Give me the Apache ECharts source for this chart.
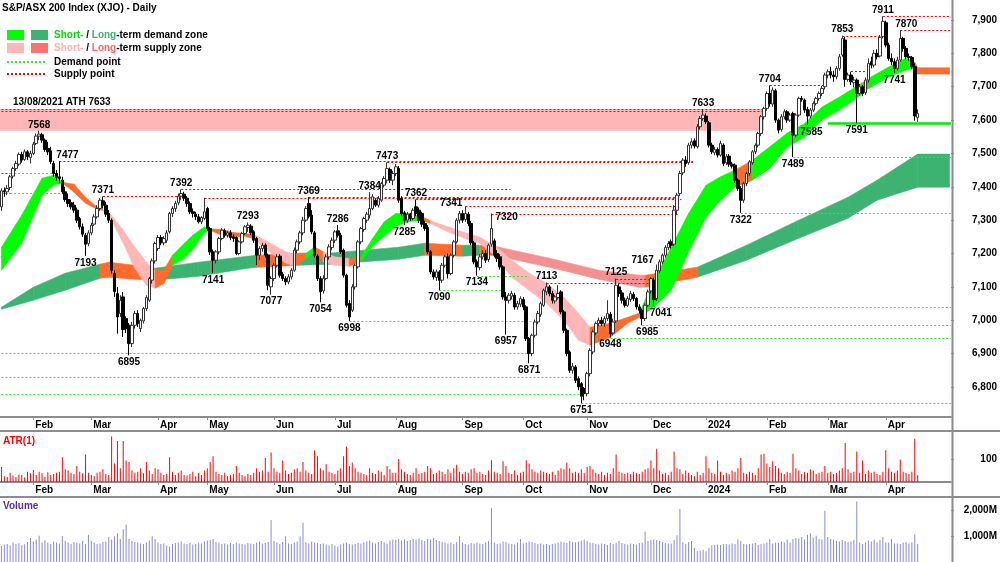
<!DOCTYPE html>
<html>
<head>
<meta charset="utf-8">
<script src="https://cdn.jsdelivr.net/npm/echarts@6/dist/echarts.min.js"></script>
<style>
  html, body { margin: 0; padding: 0; background: #fff; }
  #chart { width: 1000px; height: 562px; }
</style>
</head>
<body>
<div id="chart"></div>
<script>
// daily candles [open, close, low, high], 16 Jan 2023 .. 17 Apr 2024
var candles = [
  [7340,7388,7328,7395],[7388,7385,7370,7398],[7385,7395,7375,7405],[7398,7430,7390,7436],[7432,7455,7425,7460],
  [7455,7470,7448,7478],[7468,7497,7462,7503],[7497,7480,7472,7505],[7482,7505,7478,7512],[7505,7490,7480,7510],
  [7488,7500,7470,7508],[7500,7528,7495,7535],[7530,7552,7525,7560],[7552,7558,7540,7568],[7556,7540,7532,7562],
  [7540,7512,7505,7545],[7515,7505,7495,7535],[7508,7475,7468,7520],[7470,7440,7430,7478],[7440,7428,7418,7450],
  [7430,7425,7410,7477],[7420,7385,7378,7430],[7385,7362,7355,7400],[7362,7350,7340,7380],[7352,7340,7332,7362],
  [7345,7330,7322,7355],[7330,7300,7292,7338],[7305,7280,7272,7310],[7280,7258,7250,7290],[7255,7228,7193,7262],
  [7230,7262,7222,7270],[7262,7285,7255,7292],[7288,7310,7282,7318],[7310,7335,7305,7345],[7335,7360,7328,7366],
  [7358,7345,7335,7371],[7345,7318,7310,7355],[7320,7300,7292,7330],[7300,7150,7140,7305],[7140,7086,7070,7150],
  [7080,7010,6960,7100],[7020,7060,7010,7075],[7070,6972,6950,7085],[7005,6975,6962,7012],[6985,6930,6895,6992],
  [6930,6985,6920,6995],[6985,7020,6975,7028],[7020,6990,6980,7030],[6975,7000,6965,7005],[6998,7035,6990,7040],
  [7035,7068,7028,7075],[7060,7125,7055,7130],[7120,7178,7110,7185],[7178,7230,7170,7236],[7215,7248,7208,7255],
  [7248,7232,7225,7255],[7232,7245,7225,7252],[7240,7262,7232,7270],[7265,7320,7260,7325],[7320,7335,7310,7342],
  [7335,7350,7325,7358],[7352,7372,7345,7380],[7372,7380,7360,7392],[7378,7366,7358,7385],[7366,7350,7340,7372],
  [7350,7325,7318,7356],[7325,7320,7308,7335],[7318,7310,7300,7325],[7310,7295,7290,7318],[7295,7308,7288,7312],
  [7305,7325,7300,7367],[7335,7275,7268,7340],[7275,7205,7195,7280],[7205,7180,7141,7212],[7180,7205,7170,7210],
  [7205,7245,7198,7250],[7245,7270,7240,7276],[7268,7255,7248,7275],[7255,7262,7248,7268],[7262,7248,7240,7270],
  [7250,7245,7235,7258],[7248,7200,7195,7252],[7200,7235,7195,7240],[7235,7260,7230,7265],[7260,7280,7255,7285],
  [7278,7285,7265,7293],[7282,7262,7255,7288],[7265,7240,7232,7270],[7245,7195,7165,7250],[7195,7215,7180,7222],
  [7215,7225,7205,7232],[7225,7195,7188,7230],[7195,7105,7090,7200],[7100,7125,7077,7132],[7125,7165,7118,7172],
  [7165,7190,7158,7198],[7192,7135,7128,7198],[7138,7125,7118,7145],[7125,7115,7105,7132],[7115,7130,7108,7138],
  [7130,7150,7122,7156],[7150,7210,7145,7218],[7210,7235,7200,7242],[7235,7262,7228,7268],[7262,7300,7255,7310],
  [7300,7335,7295,7342],[7350,7312,7305,7369],[7315,7265,7258,7330],[7262,7195,7188,7268],[7192,7125,7118,7198],
  [7125,7085,7054,7132],[7088,7125,7080,7135],[7125,7190,7120,7198],[7190,7220,7182,7228],[7218,7240,7210,7248],
  [7240,7265,7232,7270],[7268,7255,7248,7286],[7255,7205,7198,7262],[7210,7135,7128,7215],[7135,7045,7038,7140],
  [7050,7010,6998,7060],[7030,7100,7025,7108],[7100,7165,7092,7170],[7160,7235,7155,7240],[7235,7275,7228,7280],
  [7272,7305,7265,7310],[7300,7318,7292,7325],[7315,7335,7305,7384],[7335,7370,7330,7378],[7360,7345,7340,7366],
  [7345,7365,7338,7372],[7360,7410,7355,7415],[7405,7425,7398,7432],[7420,7455,7410,7473],[7452,7420,7412,7458],
  [7420,7440,7405,7448],[7440,7460,7432,7468],[7455,7360,7352,7462],[7365,7320,7312,7372],[7322,7300,7285,7328],
  [7300,7318,7292,7325],[7318,7305,7298,7322],[7305,7330,7300,7336],[7340,7320,7312,7362],[7330,7300,7292,7338],
  [7320,7288,7280,7325],[7290,7275,7268,7298],[7278,7205,7198,7285],[7205,7145,7138,7210],[7145,7130,7122,7152],
  [7128,7145,7118,7152],[7145,7120,7090,7150],[7120,7165,7112,7172],[7165,7190,7158,7195],[7190,7140,7125,7200],
  [7140,7195,7135,7200],[7195,7235,7188,7240],[7235,7300,7230,7306],[7300,7320,7290,7328],[7320,7300,7292,7330],
  [7302,7320,7295,7341],[7318,7290,7282,7325],[7290,7232,7225,7298],[7232,7175,7168,7238],[7175,7160,7134,7182],
  [7158,7190,7150,7198],[7190,7200,7182,7210],[7200,7180,7172,7210],[7182,7225,7175,7230],[7228,7275,7220,7320],
  [7238,7195,7188,7245],[7200,7185,7175,7210],[7190,7160,7152,7198],[7160,7070,7062,7165],[7070,7060,6957,7085],
  [7060,7075,7050,7082],[7072,7080,7062,7088],[7075,7040,7032,7082],[7040,7050,7032,7058],[7048,7065,7040,7072],
  [7062,7040,7030,7070],[7040,6945,6938,7045],[6945,6900,6871,6950],[6900,6955,6892,6960],[6955,6995,6948,7002],
  [6995,7020,6988,7028],[7018,7050,7010,7056],[7045,7090,7040,7095],[7085,7100,7075,7113],[7100,7080,7072,7106],
  [7080,7060,7050,7088],[7058,7070,7050,7076],[7068,7080,7062,7105],[7085,7025,7018,7090],[7025,6970,6962,7030],
  [6970,6900,6892,6975],[6905,6850,6842,6910],[6850,6862,6840,6872],[6860,6820,6812,6866],[6825,6800,6790,6832],
  [6810,6772,6751,6815],[6795,6780,6760,6800],[6780,6840,6772,6846],[6840,6910,6832,6916],[6905,6965,6898,6972],
  [6962,6990,6955,6996],[6990,7000,6982,7008],[7000,6990,6982,7010],[6990,7005,6980,7012],[7005,7020,6998,7060],
  [7018,6960,6948,7025],[6962,6995,6955,7005],[6998,7105,6992,7125],[7100,7080,7070,7110],[7082,7060,7050,7090],
  [7060,7045,7038,7068],[7045,7065,7040,7072],[7062,7080,7055,7088],[7078,7065,7058,7085],[7065,7040,7032,7070],
  [7040,7030,7020,7048],[7030,7005,6985,7035],[7005,7045,6998,7050],[7045,7085,7040,7092],[7088,7125,7080,7130],
  [7120,7062,7041,7128],[7065,7150,7058,7167],[7148,7175,7140,7182],[7175,7195,7168,7200],[7195,7218,7188,7225],
  [7218,7230,7210,7238],[7235,7225,7215,7242],[7228,7330,7222,7345],[7330,7375,7318,7382],[7380,7440,7372,7448],
  [7442,7480,7435,7486],[7480,7470,7460,7492],[7472,7525,7466,7532],[7525,7535,7515,7545],[7538,7522,7515,7545],
  [7520,7580,7515,7588],[7580,7605,7572,7612],[7605,7615,7598,7633],[7612,7595,7588,7620],[7592,7525,7518,7598],
  [7525,7505,7498,7532],[7502,7512,7495,7520],[7512,7495,7488,7518],[7495,7530,7490,7538],[7525,7470,7462,7530],
  [7472,7490,7465,7498],[7492,7468,7460,7498],[7468,7462,7455,7475],[7465,7420,7412,7470],[7420,7395,7388,7425],
  [7395,7360,7322,7402],[7360,7410,7352,7415],[7410,7440,7402,7445],[7440,7475,7432,7480],[7472,7505,7466,7510],
  [7505,7525,7498,7530],[7525,7560,7518,7565],[7560,7610,7552,7615],[7610,7635,7602,7640],[7635,7680,7628,7686],
  [7680,7650,7640,7704],[7648,7690,7640,7698],[7688,7600,7592,7694],[7600,7570,7560,7605],[7572,7610,7565,7618],
  [7610,7625,7602,7632],[7625,7600,7592,7630],[7600,7615,7595,7622],[7620,7555,7489,7625],[7555,7615,7548,7620],
  [7615,7665,7610,7670],[7665,7662,7655,7672],[7660,7630,7622,7665],[7632,7612,7585,7640],[7612,7630,7605,7636],
  [7630,7650,7624,7656],[7650,7665,7644,7670],[7665,7680,7658,7686],[7680,7695,7672,7702],[7700,7735,7692,7742],
  [7735,7745,7725,7752],[7745,7735,7725,7760],[7735,7730,7715,7748],[7730,7755,7722,7762],[7755,7790,7748,7798],
  [7795,7845,7790,7853],[7840,7722,7700,7850],[7722,7735,7715,7742],[7735,7715,7705,7745],[7712,7720,7698,7730],
  [7720,7680,7591,7725],[7680,7700,7672,7708],[7700,7680,7672,7705],[7682,7720,7675,7728],[7720,7770,7712,7785],
  [7775,7765,7755,7790],[7765,7800,7758,7810],[7800,7790,7782,7812],[7792,7848,7788,7855],[7850,7896,7845,7911],
  [7892,7825,7818,7898],[7825,7785,7778,7832],[7785,7775,7765,7800],[7775,7755,7741,7785],[7755,7780,7748,7790],
  [7780,7845,7775,7870],[7845,7815,7805,7850],[7815,7790,7782,7822],[7790,7788,7778,7800],[7788,7760,7752,7792],
  [7760,7612,7598,7770],[7608,7620,7595,7632]
];

// ATR(1) bars, points
var atr = [
  65,25,22,40,28,22,32,30,20,45,38,
  52,30,45,38,22,42,30,35,40,45,108,55,50,40,35,70,45,38,120,40,
  30,25,40,45,55,35,30,198,80,178,60,178,94,87,50,40,45,60,38,87,50,35,60,
  55,40,30,35,108,45,30,40,50,30,28,35,45,25,40,30,50,
  60,87,112,45,35,30,40,25,30,35,70,40,30,25,35,30,40,60,45,50,104,45,128,
  60,45,40,94,50,35,40,55,60,45,87,50,40,35,138,112,60,50,77,45,40,
  35,50,60,112,155,70,85,60,45,40,35,30,60,40,35,50,45,30,70,55,40,
  40,100,55,45,35,30,40,60,35,40,45,70,60,35,40,50,45,35,55,40,60,75,45,
  35,45,40,55,60,40,45,35,30,50,95,45,40,35,90,70,40,35,50,30,40,
  45,95,80,55,45,40,50,45,40,35,45,30,50,60,55,85,60,40,45,40,55,40,
  65,70,55,40,35,45,30,40,35,60,120,45,40,35,40,35,45,40,35,45,55,60,
  94,60,145,50,35,40,30,45,133,60,55,35,50,40,30,25,45,30,40,
  112,60,40,35,94,45,30,40,35,50,45,60,104,40,35,45,40,30,60,120,123,
  80,65,90,70,60,40,35,45,40,123,60,50,35,45,40,55,50,35,40,45,70,
  40,45,35,40,50,60,170,55,40,45,133,40,94,35,50,40,45,35,30,45,
  138,60,45,40,50,98,45,40,35,45,188,29
];

// daily volume, millions of shares
var volume = [
  620,680,700,640,760,700,730,650,690,780,940,
  800,880,1020,760,840,760,700,800,760,720,1010,820,760,700,780,760,720,830,700,1060,
  820,760,700,720,780,800,980,880,1000,1120,900,1280,1460,900,820,780,760,720,700,760,840,1000,900,
  760,700,720,640,600,700,740,760,800,720,700,740,680,700,760,720,800,
  840,860,900,780,760,700,720,680,740,700,760,720,700,680,740,720,700,760,800,720,740,780,1640,
  820,760,700,780,1000,720,700,760,800,1000,1530,760,720,800,760,740,700,720,680,640,700,
  640,600,680,720,760,700,680,700,740,720,760,800,840,760,720,780,820,760,720,840,880,
  860,900,840,880,820,860,900,880,920,860,820,900,880,940,860,820,780,760,720,740,700,780,1000,
  760,700,680,740,720,760,720,700,760,820,2100,760,700,720,800,780,720,700,680,760,900,
  720,760,800,780,740,700,720,680,700,660,700,720,760,800,760,740,820,780,760,800,840,880,
  820,760,740,700,680,720,700,660,740,700,760,820,740,700,680,720,700,680,740,760,1180,820,
  860,880,860,820,780,740,720,720,860,1040,2070,760,700,780,820,560,420,440,480,
  420,560,640,660,680,660,700,700,680,720,700,880,820,700,680,700,720,740,660,700,720,
  760,900,720,760,740,800,760,880,760,900,940,920,980,880,1060,1120,960,1020,900,880,2000,
  980,900,880,820,800,860,820,780,800,860,2360,760,700,760,840,800,880,760,860,980,
  760,760,900,720,720,700,760,780,720,760,1070,700
];

var totalSlots = 328;   // 317 trading days plus empty space on the right
var monthIdx = [11, 31, 54, 71, 94, 115, 136, 159, 180, 202, 224, 243, 264, 285, 305];
var monthLbl = ['Feb','Mar','Apr','May','Jun','Jul','Aug','Sep','Oct','Nov','Dec','2024','Feb','Mar','Apr'];
var priceTicks = [6800, 6900, 7000, 7100, 7200, 7300, 7400, 7500, 7600, 7700, 7800, 7900];
var atrTicks = [100];
var volTicks = [1000, 2000];

// pivot labels [index, value, place, dx, dy]  h = above, l = below, L/R = beside
var pivots = [
  [13,7568,'h'],[20,7477,'h',8],[35,7371,'h'],[62,7392,'h'],[85,7293,'h'],[106,7369,'h'],[116,7286,'h'],
  [127,7384,'h'],[133,7473,'h'],[143,7362,'h'],[160,7341,'L',0,-3],[169,7320,'R',1,4],[188,7113,'h'],
  [212,7125,'h'],[226,7167,'L',0,-4],[242,7633,'h'],[265,7704,'h'],[290,7853,'h'],[304,7911,'h'],[310,7870,'h',6],
  [29,7193,'l'],[44,6895,'l'],[73,7141,'l'],[93,7077,'l'],[110,7054,'l'],[120,6998,'l'],[139,7285,'l'],
  [151,7090,'l'],[164,7134,'l'],[174,6957,'l'],[182,6871,'l'],[200,6751,'l'],[210,6948,'l'],[221,6985,'l',5],
  [225,7041,'l',7],[255,7322,'l'],[273,7489,'l'],[278,7585,'l',4],[295,7591,'l'],[308,7741,'l']
];

// horizontal supply / demand points [start index, price, end index]
var supplyLines = [
  [0,7441,3],[0,7381,3],[0,7633,263],[0,7628,263],
  [20,7477,238],[35,7371,60],[62,7392,175],[70,7367,233],[106,7369,233],[133,7473,238],
  [143,7362,234],[160,7341,233],[169,7320,233],[188,7113,226],[212,7125,226],
  [265,7704,284],[290,7853,303],[293,7747,299],[304,7911,327],[310,7870,327]
];
var demandLines = [
  [3,7441,18],[3,7381,20],[0,6903,182],[0,6829,198],[0,6778,200],
  [120,6998,182],[151,7090,173],[164,7134,181],
  [200,6751,327],[210,6948,327],[221,6985,327],[225,7041,327],[255,7322,327],[273,7489,327]
];
var keyLines = [[285,7591,327]];

// all-time-high supply zone [start, low, end, high]
var athZone = [[0, 7568, 263, 7633]];

// short-term zone knots [index, edge a, edge b, colour of following stretch]
var stBand = [
  [0,7219,7150,'g'],[7,7315,7231,'g'],[14,7426,7375,'g'],[18,7435,7405,'g'],[21,7414,7412,'o'],
  [25,7408,7384,'o'],[29,7369,7351,'o'],[33,7339,7333,'o'],[35,7331,7329,'p'],[38,7315,7300,'p'],
  [42,7270,7231,'p'],[46,7219,7156,'p'],[50,7174,7105,'p'],[53,7150,7096,'o'],[56,7150,7110,'o'],
  [59,7195,7165,'g'],[63,7230,7185,'g'],[66,7255,7212,'g'],[70,7280,7262,'g'],[72,7274,7270,'o'],
  [76,7272,7255,'o'],[80,7263,7250,'o'],[84,7260,7252,'o'],[87,7257,7245,'p'],[90,7244,7222,'p'],
  [94,7225,7195,'p'],[98,7205,7172,'p'],[101,7197,7163,'o'],[105,7200,7185,'g'],[108,7220,7205,'o'],
  [111,7205,7175,'p'],[115,7190,7165,'p'],[120,7185,7162,'o'],[124,7190,7178,'g'],[128,7245,7222,'g'],
  [132,7295,7252,'g'],[136,7320,7282,'g'],[141,7320,7297,'g'],[145,7310,7300,'o'],[148,7298,7290,'p'],
  [154,7280,7265,'p'],[160,7262,7245,'p'],[165,7249,7231,'p'],[170,7225,7195,'p'],[176,7180,7129,'p'],
  [182,7141,7090,'p'],[188,7111,7051,'p'],[194,7069,7000,'p'],[199,7021,6940,'p'],[203,6979,6925,'o'],
  [210,6991,6949,'o'],[216,7009,6991,'o'],[220,7021,7009,'g'],[225,7120,7039,'g'],[231,7219,7090,'g'],
  [237,7320,7205,'g'],[243,7405,7309,'g'],[248,7430,7360,'g'],[253,7450,7399,'o'],[259,7480,7420,'g'],
  [265,7520,7455,'g'],[271,7561,7519,'g'],[277,7590,7549,'g'],[283,7639,7600,'g'],[289,7669,7630,'g'],
  [294,7696,7660,'g'],[297,7712,7680,'o'],[299,7725,7695,'g'],[306,7759,7729,'g'],[312,7786,7750,'g'],
  [315,7774,7756,'o'],[316,7757,7738,'o'],[327,7757,7738,'o']
];

// long-term zone knots
var ltBand = [
  [0,7039,7033,'G'],[11,7099,7060,'G'],[22,7141,7090,'G'],[34,7168,7126,'o'],[37,7174,7129,'o'],
  [46,7165,7123,'o'],[53,7156,7120,'G'],[68,7174,7132,'G'],[85,7192,7156,'G'],[88,7195,7159,'o'],
  [103,7201,7165,'G'],[113,7201,7168,'G'],[137,7219,7183,'G'],[146,7231,7195,'o'],[159,7225,7192,'G'],
  [165,7225,7195,'o'],[170,7222,7195,'r'],[189,7186,7159,'r'],[206,7150,7123,'r'],[220,7135,7099,'r'],
  [222,7135,7100,'o'],[240,7159,7129,'G'],[257,7225,7180,'G'],[275,7300,7246,'G'],[292,7369,7306,'G'],
  [302,7420,7360,'G'],[316,7498,7399,'G'],[327,7498,7399,'G']
];

var zoneColors = { g: '#00ff00', G: '#3cb371', p: '#ffb6b6', r: '#f49090', o: '#ff6b2b' };
var font = '"Liberation Sans", Arial, sans-serif';

var cats = [];
for (var i = 0; i < totalSlots; i++) cats.push(String(i));
var monthMap = {};
monthIdx.forEach(function (m, k) { monthMap[m] = monthLbl[k]; });
function isMonth(index) { return monthMap[index] !== undefined; }

function commas(v) { return String(v).replace(/\B(?=(\d{3})+(?!\d))/g, ','); }

function segments(knots) {
  var out = [];
  for (var k = 0; k < knots.length - 1; k++) {
    out.push([knots[k][0], knots[k][1], knots[k][2], knots[k + 1][0], knots[k + 1][1], knots[k + 1][2]]);
  }
  return out;
}

function bandRenderer(knots) {
  return function (params, api) {
    var pts = [
      api.coord([api.value(0), api.value(1)]),
      api.coord([api.value(3), api.value(4)]),
      api.coord([api.value(3), api.value(5)]),
      api.coord([api.value(0), api.value(2)])
    ];
    var col = zoneColors[knots[params.dataIndex][3]];
    return { type: 'polygon', shape: { points: pts }, style: { fill: col, stroke: col, lineWidth: 0.6 } };
  };
}

function lineRenderer(color, width, dash) {
  return function (params, api) {
    var a = api.coord([api.value(0), api.value(1)]);
    var b = api.coord([api.value(2), api.value(1)]);
    var y = Math.round(a[1]) + 0.5;
    return { type: 'line', shape: { x1: a[0], y1: y, x2: b[0] + 1.5, y2: y },
             style: { stroke: color, lineWidth: width, lineDash: dash } };
  };
}

function renderZone(params, api) {
  var half = api.size([1, 0])[0] / 2;
  var p0 = api.coord([api.value(0), api.value(3)]);
  var p1 = api.coord([api.value(2), api.value(1)]);
  return { type: 'rect', shape: { x: p0[0] - half, y: p0[1], width: p1[0] - p0[0] + half, height: p1[1] - p0[1] },
           style: { fill: '#ffb6b6' } };
}

function renderPivot(params, api) {
  var pv = pivots[params.dataIndex];
  var pt = api.coord([pv[0], pv[1]]);
  var x = pt[0] + (pv[3] || 0), y = pt[1] + (pv[4] || 0);
  var align = 'center', va = 'middle';
  if (pv[2] === 'h') { y -= 1; va = 'bottom'; }
  else if (pv[2] === 'l') { y += 2; va = 'top'; }
  else if (pv[2] === 'L') { x -= 3; align = 'right'; }
  else { x += 3; align = 'left'; }
  return { type: 'text', x: x, y: y,
           style: { text: String(pv[1]), font: 'bold 10px ' + font, fill: '#000',
                    align: align, verticalAlign: va, textAlign: align, textVerticalAlign: va } };
}

function xAxisFor(g, show) {
  return {
    type: 'category', gridIndex: g, data: cats, boundaryGap: true,
    axisLine: { show: show, lineStyle: { color: '#8c8c8c', width: 2 } },
    axisTick: { show: show, alignWithLabel: true, interval: isMonth, length: 3, lineStyle: { color: '#8c8c8c' } },
    axisLabel: {
      show: show, interval: isMonth, align: 'left', margin: 3, padding: [0, 0, 0, 2],
      formatter: function (v, idx) { return monthMap[idx] || ''; },
      color: '#000', fontWeight: 'bold', fontSize: 10, fontFamily: font
    },
    splitLine: { show: false }
  };
}

function yAxisFor(g, min, max, ticks, fmt) {
  return {
    type: 'value', gridIndex: g, position: 'right', min: min, max: max,
    axisLine: { show: false },
    axisTick: { show: true, length: 3, customValues: ticks, lineStyle: { color: '#8c8c8c' } },
    axisLabel: { customValues: ticks, formatter: fmt, align: 'right', margin: 46,
                 color: '#000', fontWeight: 'bold', fontSize: 10, fontFamily: font },
    splitLine: { show: false }
  };
}

function legendText(y, text, rich) {
  return { type: 'text', x: 54, y: y, z: 100,
           style: { text: text, rich: rich, font: 'bold 10px ' + font, fill: '#000',
                    verticalAlign: 'middle', textVerticalAlign: 'middle' } };
}
function richPart(color) { return { fill: color, font: 'bold 10px ' + font }; }

var chart = echarts.init(document.getElementById('chart'));
chart.setOption({
  animation: false,
  backgroundColor: '#fff',
  grid: [
    { left: 0, right: 48, top: 0, height: 417 },
    { left: 0, right: 48, top: 431, height: 51 },
    { left: 0, right: 48, top: 497, height: 71 }
  ],
  xAxis: [xAxisFor(0, true), xAxisFor(1, true), xAxisFor(2, false)],
  yAxis: [
    yAxisFor(0, 6710, 7960, priceTicks, commas),
    yAxisFor(1, 0, 222, atrTicks, function (v) { return String(v); }),
    yAxisFor(2, 0, 2536, volTicks, function (v) { return commas(v) + 'M'; })
  ],
  series: [
    { type: 'custom', name: 'ath', xAxisIndex: 0, yAxisIndex: 0, z: 1, clip: true,
      renderItem: renderZone, data: athZone },
    { type: 'custom', name: 'long-term zone', xAxisIndex: 0, yAxisIndex: 0, z: 2, clip: true,
      renderItem: bandRenderer(ltBand), data: segments(ltBand) },
    { type: 'custom', name: 'short-term zone', xAxisIndex: 0, yAxisIndex: 0, z: 3, clip: true,
      renderItem: bandRenderer(stBand), data: segments(stBand) },
    { type: 'custom', name: 'supply', xAxisIndex: 0, yAxisIndex: 0, z: 4, clip: true,
      renderItem: lineRenderer('#ff0000', 1, [2, 2]), data: supplyLines },
    { type: 'custom', name: 'demand', xAxisIndex: 0, yAxisIndex: 0, z: 4, clip: true,
      renderItem: lineRenderer('#33e633', 1, [2, 2]), data: demandLines },
    { type: 'custom', name: 'key', xAxisIndex: 0, yAxisIndex: 0, z: 4, clip: true,
      renderItem: lineRenderer('#00ee00', 2.5, null), data: keyLines },
    { type: 'candlestick', name: 'XJO', xAxisIndex: 0, yAxisIndex: 0, z: 5, barWidth: 3,
      data: candles,
      itemStyle: { color: '#ffffff', color0: '#000000', borderColor: '#333333', borderColor0: '#000000', borderWidth: 1 } },
    { type: 'custom', name: 'pivots', xAxisIndex: 0, yAxisIndex: 0, z: 6, clip: false,
      renderItem: renderPivot, data: pivots.map(function (p) { return [p[0], p[1]]; }) },
    { type: 'bar', name: 'ATR(1)', xAxisIndex: 1, yAxisIndex: 1, barWidth: 1, data: atr,
      itemStyle: { color: '#ff0000' } },
    { type: 'bar', name: 'Volume', xAxisIndex: 2, yAxisIndex: 2, barWidth: 1, data: volume,
      itemStyle: { color: '#8a8ad2' } }
  ],
  graphic: [
    { type: 'line', z: 100, shape: { x1: 952.5, y1: 0, x2: 952.5, y2: 562 }, style: { stroke: '#8c8c8c', lineWidth: 2 } },
    { type: 'line', z: 100, shape: { x1: 0, y1: 431, x2: 1000, y2: 431 }, style: { stroke: '#8c8c8c', lineWidth: 2 } },
    { type: 'line', z: 100, shape: { x1: 0, y1: 497, x2: 1000, y2: 497 }, style: { stroke: '#8c8c8c', lineWidth: 2 } },
    { type: 'text', x: 2, y: 8, z: 100,
      style: { text: 'S&P/ASX 200 Index (XJO) - Daily', font: 'bold 10px ' + font, fill: '#000',
               verticalAlign: 'middle', textVerticalAlign: 'middle' } },
    { type: 'rect', z: 100, shape: { x: 7, y: 30, width: 17, height: 10 }, style: { fill: '#00ff00' } },
    { type: 'rect', z: 100, shape: { x: 31, y: 30, width: 17, height: 10 }, style: { fill: '#3cb371' } },
    { type: 'rect', z: 100, shape: { x: 7, y: 43, width: 17, height: 10 }, style: { fill: '#ffb6b6' } },
    { type: 'rect', z: 100, shape: { x: 31, y: 43, width: 17, height: 10 }, style: { fill: '#ff7272' } },
    legendText(35, '{a|Short-} / {b|Long}-term demand zone', { a: richPart('#00dd00'), b: richPart('#3cb371') }),
    legendText(48, '{a|Short-} / {b|Long}-term supply zone', { a: richPart('#ffb0b0'), b: richPart('#ff6666') }),
    { type: 'line', z: 100, shape: { x1: 7, y1: 62, x2: 46, y2: 62 }, style: { stroke: '#33e633', lineWidth: 2, lineDash: [2, 2] } },
    { type: 'line', z: 100, shape: { x1: 7, y1: 74, x2: 46, y2: 74 }, style: { stroke: '#ff0000', lineWidth: 2, lineDash: [2, 2] } },
    legendText(62, 'Demand point', {}),
    legendText(74, 'Supply point', {}),
    { type: 'text', x: 13, y: 102, z: 100,
      style: { text: '13/08/2021 ATH 7633', font: 'bold 10px ' + font, fill: '#000',
               verticalAlign: 'middle', textVerticalAlign: 'middle' } },
    { type: 'text', x: 3, y: 441, z: 100,
      style: { text: 'ATR(1)', font: 'bold 10px ' + font, fill: '#ff0000',
               verticalAlign: 'middle', textVerticalAlign: 'middle' } },
    { type: 'text', x: 3, y: 506, z: 100,
      style: { text: 'Volume', font: 'bold 10px ' + font, fill: '#5b2c9c',
               verticalAlign: 'middle', textVerticalAlign: 'middle' } }
  ]
});
</script>
</body>
</html>
